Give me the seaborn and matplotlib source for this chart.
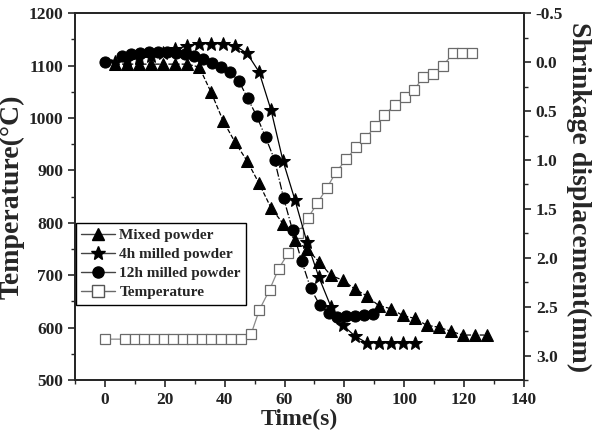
import matplotlib

matplotlib.use("Agg")
import matplotlib.pyplot as plt
import pandas as pd
import seaborn as sns
from matplotlib.lines import Line2D
from matplotlib.ticker import MultipleLocator

# temperature curve (left axis, degC)
temp_time = [0, 6.8, 10.0, 13.2, 16.4, 19.6, 22.8, 26.0, 29.2, 32.4, 35.6, 38.8, 42.0, 45.3,
             48.8, 51.6, 55.0, 58.0, 61.2, 64.6, 67.9, 71.0, 74.2, 77.3, 80.7, 83.9, 87.0,
             90.3, 93.4, 96.8, 100.1, 103.2, 106.3, 109.7, 112.8, 116.4, 119.4, 122.5]
temp_vals = [578, 578, 578, 578, 578, 578, 578, 578, 578, 578, 578, 578, 578, 578,
             587, 634, 672, 712, 742, 781, 810, 838, 867, 898, 921, 945, 961,
             984, 1006, 1025, 1041, 1053, 1078, 1084, 1099, 1124, 1124, 1124]

# shrinkage curves (right axis, mm)
mixed_time = [3.5, 7.5, 11.5, 15.5, 19.5, 23.5, 27.5, 31.5, 35.5, 39.5, 43.5, 47.5, 51.5,
              55.5, 59.5, 63.5, 67.5, 71.5, 75.5, 79.5, 83.5, 87.5, 91.5, 95.5, 99.5,
              103.5, 107.5, 111.5, 115.5, 119.5, 123.5, 127.5]
mixed_vals = [0.02, 0.02, 0.02, 0.02, 0.02, 0.02, 0.02, 0.05, 0.31, 0.60, 0.82, 1.01, 1.24,
              1.49, 1.65, 1.82, 1.91, 2.04, 2.18, 2.23, 2.32, 2.39, 2.49, 2.52, 2.59,
              2.62, 2.69, 2.71, 2.75, 2.79, 2.79, 2.79]

milled4_time = [3.5, 7.5, 11.5, 15.5, 19.5, 23.5, 27.5, 31.5, 35.5, 39.5, 43.5, 47.5, 51.5,
                55.5, 59.5, 63.5, 67.5, 71.5, 75.5, 79.5, 83.5, 87.5, 91.5, 95.5, 99.5, 103.5]
milled4_vals = [0.0, -0.02, -0.04, -0.06, -0.09, -0.13, -0.17, -0.19, -0.19, -0.19, -0.17,
                -0.09, 0.10, 0.49, 1.01, 1.41, 1.84, 2.20, 2.50, 2.69, 2.80, 2.87, 2.87,
                2.87, 2.87, 2.87]

milled12_time = [0, 5.7, 8.7, 11.7, 14.7, 17.7, 20.7, 23.7, 26.7, 29.7, 32.7, 35.7, 38.7,
                 41.7, 44.7, 47.7, 50.7, 53.7, 56.7, 59.7, 62.7, 65.7, 68.7, 71.7, 74.7,
                 77.7, 80.7, 83.7, 86.7, 89.7]
milled12_vals = [0.0, -0.06, -0.08, -0.09, -0.10, -0.10, -0.10, -0.09, -0.08, -0.06, -0.03,
                 0.01, 0.05, 0.10, 0.19, 0.37, 0.55, 0.77, 1.00, 1.39, 1.72, 2.03, 2.31,
                 2.48, 2.56, 2.61, 2.60, 2.60, 2.59, 2.58]

sns.set_style("ticks")
plt.rcParams["font.family"] = ["Liberation Serif", "DejaVu Serif"]
plt.rcParams["font.weight"] = "bold"
plt.rcParams["axes.unicode_minus"] = False

fig = plt.figure(figsize=(5.98, 4.37), dpi=100)
ax = fig.add_axes([0.1254, 0.1304, 0.7508, 0.8392])
ax2 = ax.twinx()

temp_df = pd.DataFrame({"time": temp_time, "value": temp_vals})
sns.lineplot(data=temp_df, x="time", y="value", ax=ax, color="#8a8a8a", linewidth=0.9,
             marker="s", markersize=7, markerfacecolor="white", markeredgecolor="#6a6a6a",
             markeredgewidth=0.9, legend=False)

series = [
    (mixed_time, mixed_vals, "^", "--", 9, "Mixed powder"),
    (milled4_time, milled4_vals, "*", "-", 10.5, "4h milled powder"),
    (milled12_time, milled12_vals, "o", "-.", 8, "12h milled powder"),
]
handles = []
for t, v, mk, ls, ms, name in series:
    df = pd.DataFrame({"time": t, "value": v})
    sns.lineplot(data=df, x="time", y="value", ax=ax2, color="black", linewidth=0.9,
                 linestyle=ls, marker=mk, markersize=ms, markeredgecolor="black",
                 legend=False)
    handles.append(Line2D([], [], color="#444444", linewidth=1.0, marker=mk,
                          markersize=ms, markerfacecolor="black",
                          markeredgecolor="black", label=name))
handles.append(Line2D([], [], color="#6a6a6a", linewidth=1.0, marker="s", markersize=9,
                      markerfacecolor="white", markeredgecolor="#555555",
                      label="Temperature"))

ax.set_xlim(-10, 140)
ax.set_ylim(500, 1200)
ax2.set_ylim(3.25, -0.5)

ax.xaxis.set_major_locator(MultipleLocator(20))
ax.xaxis.set_minor_locator(MultipleLocator(10))
ax.yaxis.set_major_locator(MultipleLocator(100))
ax.yaxis.set_minor_locator(MultipleLocator(50))
ax2.yaxis.set_major_locator(MultipleLocator(0.5))
ax2.yaxis.set_minor_locator(MultipleLocator(0.25))

for a in (ax, ax2):
    a.tick_params(which="major", direction="out", length=5, width=1.2, labelsize=12.5,
                  labelcolor="#222222")
    a.tick_params(which="minor", direction="out", length=3, width=1.0)
    for sp in a.spines.values():
        sp.set_linewidth(1.3)
        sp.set_visible(True)
    for lab in a.get_xticklabels() + a.get_yticklabels():
        lab.set_fontweight("bold")

ax.set_xlabel("Time(s)", fontsize=17, fontweight="bold", labelpad=1)
ax.set_ylabel("Temperature(\u00b0C)", fontsize=20, fontweight="bold", labelpad=3)
ax2.set_ylabel("Shrinkage displacement(mm)", fontsize=20, fontweight="bold",
               rotation=270, labelpad=20)

leg = ax.legend(handles=handles, loc="upper left", bbox_to_anchor=(0.002, 0.428),
                borderaxespad=0, frameon=True, fancybox=False, edgecolor="black",
                framealpha=1,
                prop={"family": "Liberation Serif", "weight": "bold", "size": 11},
                handlelength=2.2, handletextpad=0.3, borderpad=0.35, labelspacing=0.35)
leg.get_frame().set_linewidth(1.0)
leg.set_zorder(5)

fig.savefig("out.png", dpi=100)
